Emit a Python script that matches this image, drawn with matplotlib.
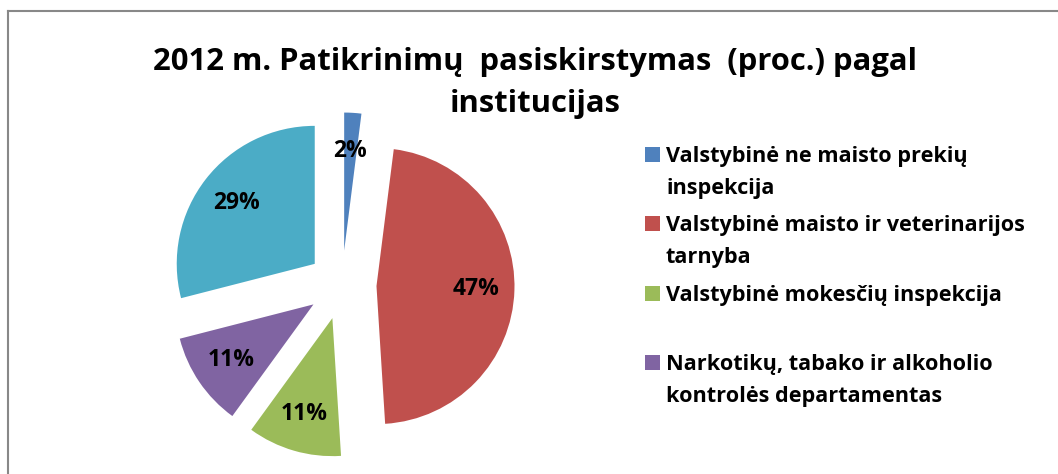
import matplotlib.pyplot as plt
from matplotlib.patches import Rectangle
from matplotlib.lines import Line2D

plt.rcParams['font.family'] = ['Open Sans', 'DejaVu Sans']

# Duomenys
labels = ['Valstybinė ne maisto prekių\ninspekcija',
          'Valstybinė maisto ir veterinarijos\ntarnyba',
          'Valstybinė mokesčių inspekcija',
          'Narkotikų, tabako ir alkoholio\nkontrolės departamentas',
          'Kitos institucijos']
values = [2, 47, 11, 11, 29]
colors = ['#4F81BD', '#C0504D', '#9BBB59', '#8064A2', '#4BACC6']
title_lines = ['2012 m. Patikrinimų  pasiskirstymas  (proc.) pagal', 'institucijas']

W, H = 1058, 474
fig = plt.figure(figsize=(W / 100, H / 100), dpi=100)

# pyrago ašys: centras (342, 285) px, spindulys 138 px
cx, cy, r = 342, 285, 138
half = 1.4 * r
ax = fig.add_axes([(cx - half) / W, (H - cy - half) / H, 2 * half / W, 2 * half / H])
wedges, texts, autotexts = ax.pie(values, colors=colors, startangle=90, counterclock=False,
                                  explode=[0.25] * len(values), autopct='%1.0f%%',
                                  pctdistance=0.72, radius=1,
                                  textprops=dict(fontsize=16.5, fontweight='bold', color='black'))
ax.set_xlim(-1.4, 1.4)
ax.set_ylim(-1.4, 1.4)
ax.set_aspect('equal')
ax.axis('off')
for w in wedges:
    w.set_clip_on(False)

# Pavadinimas
for i, line in enumerate(title_lines):
    fig.text(535 / W, 1 - (70 + 42 * i) / H, line, ha='center', va='baseline',
             fontsize=22.3, fontweight='bold')

# Legenda (matomi tik 4 įrašai)
rows = [162, 231, 301, 370]
for lab, col, y in zip(labels[:4], colors[:4], rows):
    fig.add_artist(Rectangle((645 / W, 1 - y / H), 15 / W, 15 / H,
                             transform=fig.transFigure, facecolor=col, edgecolor='none'))
    for j, line in enumerate(lab.split('\n')):
        fig.text(666 / W, 1 - (y + 32 * j) / H, line, ha='left', va='baseline',
                 fontsize=15.6, fontweight='bold')

# Rėmelis
fig.add_artist(Line2D([8 / W, 8 / W], [0, 1 - 10.5 / H], color='#888888', lw=1.5,
                      transform=fig.transFigure))
fig.add_artist(Line2D([8 / W, 1], [1 - 10.5 / H, 1 - 10.5 / H], color='#888888', lw=1.5,
                      transform=fig.transFigure))

fig.savefig('out.png', dpi=100)
